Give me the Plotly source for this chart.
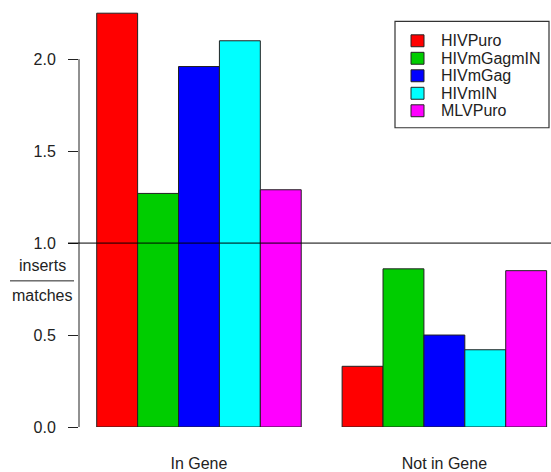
import plotly.graph_objects as go

# Ratio of inserts to matches, by vector and by location relative to genes
groups = ["In Gene", "Not in Gene"]
series = ["HIVPuro", "HIVmGagmIN", "HIVmGag", "HIVmIN", "MLVPuro"]
colors = ["#FF0000", "#00CD00", "#0000FF", "#00FFFF", "#FF00FF"]
values = {
    "HIVPuro":    [2.25, 0.33],
    "HIVmGagmIN": [1.27, 0.86],
    "HIVmGag":    [1.96, 0.50],
    "HIVmIN":     [2.10, 0.42],
    "MLVPuro":    [1.29, 0.85],
}
group_pos = [3.5, 9.5]          # centre of each block of five bars
y_ticks = [0.0, 0.5, 1.0, 1.5, 2.0]

W, H = 551, 472
ML, MR, MT, MB = 79, 0, 3.5, 43
TXT = "#222222"
FONT = "Liberation Sans, Arial, sans-serif"

def px(x):
    return (x - ML) / (W - ML - MR)

def py(y):
    return (H - MB - y) / (H - MB - MT)

fig = go.Figure()
for name, col in zip(series, colors):
    fig.add_trace(go.Bar(
        x=group_pos, y=values[name], name=name,
        marker=dict(color=col, line=dict(color="#222222", width=1)),
        showlegend=False,
    ))

shapes = [
    # y axis spine between first and last tick
    dict(type="line", xref="paper", yref="y", x0=0, x1=0,
         y0=y_ticks[0], y1=y_ticks[-1], line=dict(color="#222222", width=1)),
    # reference line at ratio 1
    dict(type="line", xref="paper", yref="y", x0=px(68), x1=1, y0=1, y1=1,
         line=dict(color="black", width=1), layer="above"),
    # fraction bar of the axis label
    dict(type="line", xref="paper", yref="paper", x0=px(10), x1=px(74),
         y0=py(282), y1=py(282), line=dict(color=TXT, width=1)),
    # legend frame
    dict(type="rect", xref="paper", yref="paper", x0=px(395), x1=px(549),
         y0=py(128), y1=py(21), line=dict(color="#333333", width=1.2),
         fillcolor="white", layer="above"),
]
annotations = [
    dict(text="inserts", xref="paper", yref="paper", x=px(42), y=py(266.5),
         showarrow=False, xanchor="center", yanchor="middle",
         font=dict(size=16, color=TXT, family=FONT)),
    dict(text="matches", xref="paper", yref="paper", x=px(42), y=py(297),
         showarrow=False, xanchor="center", yanchor="middle",
         font=dict(size=16, color=TXT, family=FONT)),
]
# legend entries: coloured key squares and series names
row_y = 40.5
for name, col in zip(series, colors):
    shapes.append(dict(type="rect", xref="paper", yref="paper",
                       x0=px(411), x1=px(424), y0=py(row_y + 6), y1=py(row_y - 6),
                       fillcolor=col, line=dict(color="#222222", width=1),
                       layer="above"))
    annotations.append(dict(text=name, xref="paper", yref="paper",
                            x=px(439), y=py(row_y), showarrow=False,
                            xanchor="left", yanchor="middle",
                            font=dict(size=16, color=TXT, family=FONT)))
    row_y += 17.6

fig.update_layout(
    width=W, height=H,
    margin=dict(l=ML, r=MR, t=MT, b=MB, pad=0),
    paper_bgcolor="white", plot_bgcolor="white",
    barmode="group", bargap=1 / 6, bargroupgap=0,
    font=dict(family=FONT, size=16, color=TXT),
    xaxis=dict(range=[0.567, 12.107], tickvals=group_pos, ticktext=groups,
               ticks="", showline=False, showgrid=False, zeroline=False,
               ticklabelstandoff=25, tickfont=dict(size=16, color=TXT)),
    yaxis=dict(range=[0, 2.3], tickvals=y_ticks,
               ticktext=[f"{v:.1f}" for v in y_ticks],
               ticks="outside", ticklen=10, tickwidth=1, tickcolor="#222222",
               showline=False, showgrid=False, zeroline=False,
               ticklabelstandoff=9, tickfont=dict(size=16, color=TXT)),
    shapes=shapes, annotations=annotations,
    showlegend=False,
)

fig.write_html("out.html")
